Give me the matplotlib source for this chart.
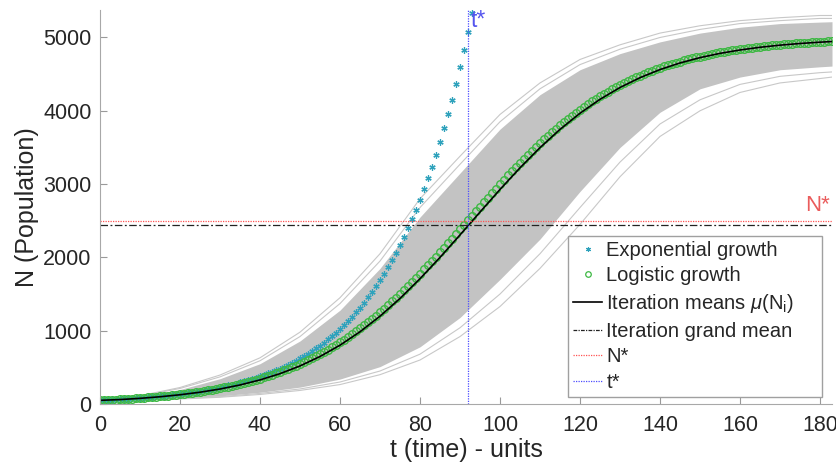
import matplotlib
matplotlib.use("Agg")
import matplotlib.pyplot as plt
from matplotlib.lines import Line2D

plt.rcParams['font.family'] = ['Liberation Sans', 'DejaVu Sans']
plt.rcParams['mathtext.fontset'] = 'custom'
plt.rcParams['mathtext.rm'] = 'Liberation Sans'
plt.rcParams['mathtext.it'] = 'Liberation Sans:italic'

# exponential growth, one point per time unit (t = 0..93)
exp_growth = [
    51.0, 53.6, 56.4, 59.3, 62.3, 65.5, 68.8, 72.4, 76.1, 80.0,
    84.1, 88.4, 92.9, 97.7, 102.7, 108.0, 113.5, 119.3, 125.4, 131.9,
    138.6, 145.7, 153.2, 161.1, 169.3, 178.0, 187.1, 196.7, 206.8, 217.4,
    228.6, 240.3, 252.6, 265.6, 279.2, 293.5, 308.5, 324.4, 341.0, 358.5,
    376.8, 396.2, 416.5, 437.8, 460.3, 483.9, 508.7, 534.8, 562.2, 591.0,
    621.3, 653.2, 686.6, 721.9, 758.9, 797.8, 838.7, 881.7, 926.9, 974.4,
    1024.4, 1076.9, 1132.1, 1190.1, 1251.2, 1315.3, 1382.7, 1453.6, 1528.2, 1606.5,
    1688.9, 1775.5, 1866.5, 1962.2, 2062.8, 2168.6, 2279.8, 2396.6, 2519.5, 2648.7,
    2784.5, 2927.3, 3077.4, 3235.1, 3401.0, 3575.4, 3758.7, 3951.4, 4154.0, 4367.0,
    4590.9, 4826.3, 5073.7, 5333.8,
]

# logistic growth, one point per time unit (t = 0..183)
logistic = [
    50.0, 52.5, 55.2, 58.0, 60.9, 64.0, 67.3, 70.7, 74.2, 78.0,
    81.9, 86.0, 90.4, 94.9, 99.7, 104.7, 109.9, 115.4, 121.2, 127.3,
    133.6, 140.3, 147.3, 154.6, 162.2, 170.3, 178.7, 187.5, 196.8, 206.4,
    216.6, 227.2, 238.2, 249.8, 262.0, 274.7, 288.0, 301.8, 316.3, 331.5,
    347.3, 363.8, 381.0, 399.0, 417.8, 437.3, 457.6, 478.9, 501.0, 523.9,
    547.9, 572.7, 598.6, 625.5, 653.3, 682.2, 712.3, 743.4, 775.6, 808.8,
    843.3, 879.0, 915.8, 953.8, 993.1, 1033.3, 1075.0, 1117.8, 1161.7, 1206.9,
    1253.1, 1300.7, 1349.5, 1399.4, 1450.1, 1502.4, 1555.2, 1609.3, 1664.4, 1720.6,
    1777.5, 1834.9, 1893.2, 1952.4, 2012.1, 2072.9, 2134.0, 2194.9, 2257.3, 2319.1,
    2381.0, 2443.8, 2506.1, 2568.7, 2631.0, 2693.2, 2755.2, 2816.9, 2878.2, 2939.1,
    2999.4, 3059.0, 3118.0, 3176.4, 3233.9, 3290.6, 3346.4, 3401.2, 3455.1, 3507.9,
    3559.8, 3610.5, 3660.1, 3708.6, 3755.9, 3802.0, 3847.0, 3890.7, 3933.3, 3974.6,
    4014.8, 4053.8, 4091.5, 4128.1, 4163.5, 4197.8, 4230.9, 4262.9, 4293.8, 4323.5,
    4352.2, 4379.9, 4406.5, 4432.2, 4456.9, 4480.6, 4503.5, 4525.4, 4546.4, 4566.6,
    4586.0, 4604.6, 4622.4, 4639.5, 4655.9, 4671.6, 4686.6, 4701.0, 4714.7, 4727.9,
    4740.4, 4752.5, 4764.0, 4775.0, 4785.5, 4795.5, 4805.1, 4814.2, 4823.0, 4831.3,
    4839.3, 4846.9, 4854.2, 4861.1, 4867.7, 4874.0, 4879.9, 4885.7, 4891.1, 4896.3,
    4901.3, 4906.0, 4910.5, 4914.8, 4918.9, 4922.8, 4926.5, 4930.0, 4933.4, 4936.6,
    4939.7, 4942.6, 4945.3, 4948.0,
]

# iteration means
t_mean = [0, 5, 10, 15, 20, 25, 30, 35, 40, 45, 50, 55, 60, 65, 70, 75, 80, 85,
          90, 95, 100, 105, 110, 115, 120, 125, 130, 135, 140, 145, 150, 155,
          160, 165, 170, 175, 180, 183]
iter_mean = [50, 60.4, 77.2, 98.7, 126.1, 160.7, 204.5, 259.6, 328.4, 414.0,
             519.3, 647.8, 802.2, 985.2, 1197.9, 1440, 1709.4, 2000.2, 2306.7,
             2618.5, 2926.9, 3222.4, 3497.3, 3746.4, 3966.3, 4156.4, 4317.6,
             4451.9, 4562.6, 4652.6, 4725.3, 4783.4, 4829.6, 4866.4, 4895.3,
             4918.1, 4936.0, 4944.8]

# spread of the simulated iterations
t_band = [0, 10, 20, 30, 40, 50, 60, 70, 80, 90, 100, 110, 120, 130, 140, 150,
          160, 170, 180, 183]
core_low = [50, 60, 80, 110, 160, 230, 340, 510, 780, 1180, 1700, 2250, 2900,
            3500, 3980, 4300, 4460, 4560, 4600, 4610]
core_up = [50, 102, 198, 345, 550, 860, 1280, 1850, 2550, 3150, 3750, 4220,
           4560, 4780, 4940, 5060, 5140, 5190, 5210, 5215]
outer_low = [50, 54, 68, 92, 130, 185, 265, 400, 600, 920, 1330, 1850, 2450,
             3100, 3650, 4000, 4250, 4380, 4440, 4460]
outer_up = [50, 112, 225, 395, 630, 980, 1450, 2050, 2800, 3380, 3950, 4380,
            4700, 4900, 5060, 5160, 5230, 5270, 5300, 5300]
fringe_low = [50, 57, 74, 100, 145, 205, 300, 450, 680, 1040, 1500, 2050, 2680,
              3300, 3820, 4150, 4360, 4470, 4520, 4530]
fringe_up = [50, 107, 212, 370, 590, 920, 1370, 1950, 2680, 3270, 3850, 4300,
             4630, 4840, 5000, 5110, 5190, 5230, 5260, 5260]

grand_mean = 2440
n_star = 2500
t_star = 91.9

t_exp = list(range(len(exp_growth)))
t_log = list(range(len(logistic)))

fig = plt.figure(figsize=(8.37, 4.68), dpi=100)
ax = fig.add_axes([100/837, 64/468, 732/837, 394/468])

gray = '#c3c3c3'
ax.fill_between(t_band, core_low, core_up, color=gray, lw=0)
for s in [outer_low, outer_up, fringe_low, fringe_up]:
    ax.plot(t_band, s, color='#c8c8c8', lw=0.8)

teal = '#2fa2bc'
green = '#3db843'
ax.plot(t_exp, exp_growth, ls='none', marker=(6, 2, 0), ms=4.5, mew=0.9,
        color=teal)
ax.plot(t_log, logistic, ls='none', marker='o', ms=5.5, mew=1.0,
        mfc='none', mec=green)
ax.plot(t_mean, iter_mean, color='black', lw=1.2)
ax.axhline(grand_mean, color='#222222', lw=0.9, ls=(0, (6, 2, 1.5, 2)))
ax.axhline(n_star, color='#ff5252', lw=0.9, ls=(0, (1, 1)))
ax.axvline(t_star, color='#4d4dff', lw=0.9, ls=(0, (1, 1)))

ax.text(182.5, 2560, 'N*', color='#ea5c5c', fontsize=16, ha='right', va='bottom')
ax.text(92.6, 5385, 't*', color='#5555ee', fontsize=16.5, ha='left', va='top')

ax.set_xlim(0, 183)
ax.set_ylim(0, 5375)
ax.set_xticks(range(0, 181, 20))
ax.set_yticks(range(0, 5001, 1000))
ax.tick_params(direction='in', length=5, color='#9a9a9a', labelsize=15.5,
               labelcolor='#262626')
ax.tick_params(axis='x', pad=8)
ax.tick_params(axis='y', pad=6)
for side in ['top', 'right']:
    ax.spines[side].set_visible(False)
for side in ['left', 'bottom']:
    ax.spines[side].set_color('#a8a8a8')

ax.set_xlabel('t (time) - units', fontsize=18, color='#262626', labelpad=1)
ax.set_ylabel('N (Population)', fontsize=18, color='#262626', labelpad=3)

handles = [
    Line2D([], [], ls='none', marker=(6, 2, 0), ms=3.5, mew=0.8, color=teal),
    Line2D([], [], ls='none', marker='o', ms=4, mew=0.9, mfc='none', mec=green),
    Line2D([], [], color='black', lw=1.2),
    Line2D([], [], color='#222222', lw=0.9, ls=(0, (3, 1, 1, 1))),
    Line2D([], [], color='#ff5252', lw=0.9, ls=(0, (1, 1))),
    Line2D([], [], color='#4d4dff', lw=0.9, ls=(0, (1, 1))),
]
labels = ['Exponential growth', 'Logistic growth',
          r'Iteration means $\mu$(N$_{\mathrm{i}}$)', 'Iteration grand mean',
          'N*', 't*']
leg = ax.legend(handles, labels, loc='lower left', mode='expand',
                bbox_to_anchor=(468/732, 7/394, 254/732, 0.2), borderaxespad=0,
                fontsize=14.5, frameon=True, fancybox=False, framealpha=1,
                edgecolor='#a0a0a0', handlelength=1.45, handletextpad=0.2,
                borderpad=0.25, labelspacing=0.33)
leg.get_frame().set_linewidth(1.0)
for txt in leg.get_texts():
    txt.set_color('#262626')

fig.savefig('out.png', dpi=100)
